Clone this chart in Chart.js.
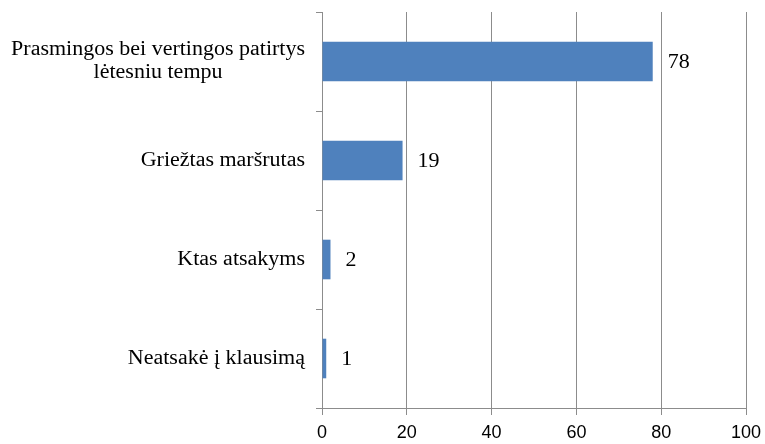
<!DOCTYPE html>
<html>
<head>
<meta charset="utf-8">
<script src="https://cdn.jsdelivr.net/npm/chart.js@4"></script>
<style>
  html, body { margin: 0; padding: 0; background: #fff; }
  #wrap { width: 765px; height: 444px; }
</style>
</head>
<body>
<div id="wrap"><canvas id="c" width="765" height="444"></canvas></div>
<script>
const categories = [
  ['Prasmingos bei vertingos patirtys', 'lėtesniu tempu'],
  ['Griežtas maršrutas'],
  ['Ktas atsakyms'],
  ['Neatsakė į klausimą']
];
const values = [78, 19, 2, 1];
const xTicks = [0, 20, 40, 60, 80, 100];

const gridColor = '#8c8c8c';
const barColor = '#4f81bd';
const serif = '"Liberation Serif", "Times New Roman", serif';
const stretch = 1.1;

function drawStretched(ctx, text, x, y, align) {
  const w = ctx.measureText(text).width * stretch;
  let left = x;
  if (align === 'center') left = x - w / 2;
  else if (align === 'right') left = x - w;
  ctx.save();
  ctx.translate(left, y);
  ctx.scale(stretch, 1);
  ctx.textAlign = 'left';
  ctx.fillText(text, 0, 0);
  ctx.restore();
}

const labelPlugin = {
  id: 'customLabels',
  afterDatasetsDraw(chart) {
    const ctx = chart.ctx;
    const meta = chart.getDatasetMeta(0);
    ctx.save();
    ctx.font = '20px ' + serif;
    ctx.fillStyle = '#000';
    ctx.textBaseline = 'middle';
    meta.data.forEach((bar, i) => {
      drawStretched(ctx, String(values[i]), bar.x + 15, bar.y + 1, 'left');
    });
    const ys = chart.scales.y;
    const rightEdge = ys.right - 17;
    const lineH = 23;
    categories.forEach((lines, i) => {
      const yc = ys.getPixelForValue(i);
      let maxW = 0;
      lines.forEach(l => { maxW = Math.max(maxW, ctx.measureText(l).width * stretch); });
      const cx = rightEdge - maxW / 2;
      lines.forEach((l, j) => {
        const y = yc + (j - (lines.length - 1) / 2) * lineH;
        drawStretched(ctx, l, cx, y, 'center');
      });
    });
    ctx.restore();
  }
};

new Chart(document.getElementById('c'), {
  type: 'bar',
  data: {
    labels: categories.map(c => c.join(' ')),
    datasets: [{
      data: values,
      backgroundColor: barColor,
      borderWidth: 0,
      barPercentage: 0.4,
      categoryPercentage: 1.0
    }]
  },
  options: {
    indexAxis: 'y',
    responsive: false,
    animation: false,
    devicePixelRatio: 1,
    layout: { padding: { left: 0, right: 0, top: 12, bottom: 0 } },
    plugins: { legend: { display: false }, tooltip: { enabled: false } },
    scales: {
      x: {
        min: 0, max: 100,
        afterBuildTicks(scale) { scale.ticks = xTicks.map(v => ({ value: v })); },
        afterFit(scale) { scale.height = 36; scale.paddingRight = 19; scale.paddingLeft = 0; },
        grid: { color: gridColor, lineWidth: 1, tickLength: 7, drawTicks: true },
        border: { color: gridColor, width: 1 },
        ticks: {
          font: { family: '"Liberation Sans", Arial, sans-serif', size: 18 },
          color: '#000',
          padding: 7,
          maxRotation: 0
        }
      },
      y: {
        afterFit(scale) { scale.width = 322; },
        grid: { display: true, offset: true, drawOnChartArea: false, color: gridColor, tickLength: 6 },
        border: { color: gridColor, width: 1 },
        ticks: { display: false }
      }
    }
  },
  plugins: [labelPlugin]
});
</script>
</body>
</html>
